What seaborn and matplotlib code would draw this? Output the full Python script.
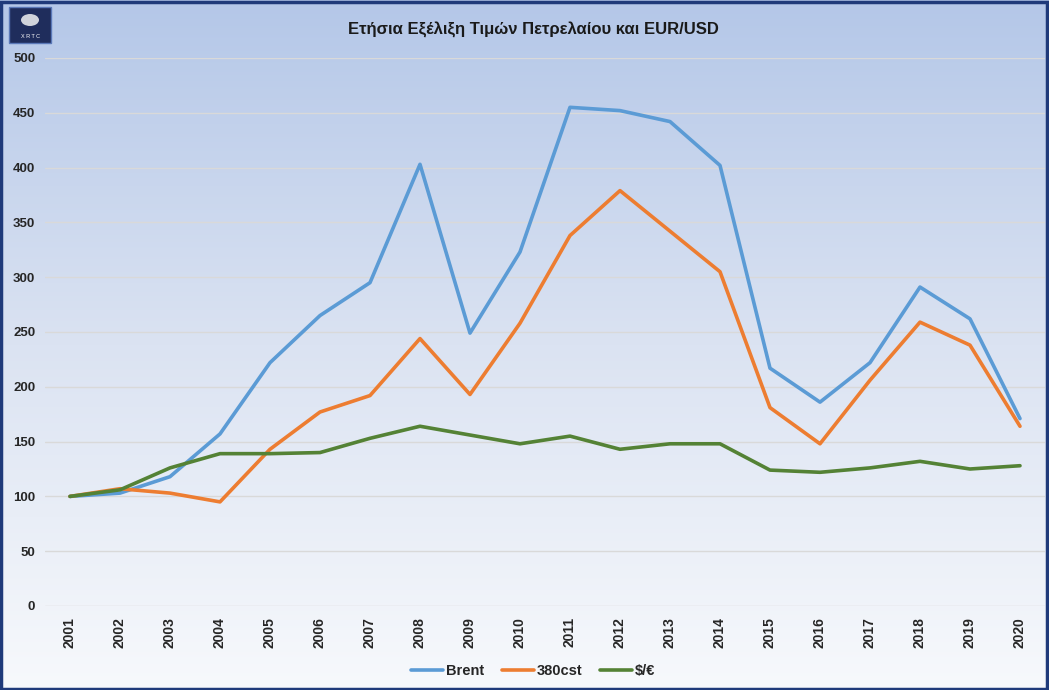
import matplotlib
matplotlib.use("Agg")
import matplotlib.pyplot as plt
import numpy as np
import pandas as pd
import seaborn as sns
from matplotlib.colors import LinearSegmentedColormap
from matplotlib.patches import Rectangle, Ellipse

# δεδομένα (δείκτης, 2001 = 100)
years = list(range(2001, 2021))
brent = [100, 103, 118, 157, 222, 265, 295, 403, 249, 323, 455, 452, 442, 402, 217, 186, 222, 291, 262, 171]
cst380 = [100, 107, 103, 95, 143, 177, 192, 244, 193, 258, 338, 379, 342, 305, 181, 148, 206, 259, 238, 164]
usd_eur = [100, 106, 126, 139, 139, 140, 153, 164, 156, 148, 155, 143, 148, 148, 124, 122, 126, 132, 125, 128]
series_names = ['Brent', '380cst', '$/€']
colors = ['#5b9bd5', '#ed7d31', '#548235']

df = pd.DataFrame({'year': years * 3,
                   'value': brent + cst380 + usd_eur,
                   'series': [s for s in series_names for _ in years]})

sns.set_theme(style="white")
plt.rcParams['font.family'] = ['Liberation Sans', 'DejaVu Sans']

fig = plt.figure(figsize=(10.49, 6.9), dpi=100)

# φόντο με διαβάθμιση
bg = fig.add_axes([0, 0, 1, 1], zorder=-10)
cmap = LinearSegmentedColormap.from_list('bg', ['#b4c7e8', '#dbe3f2', '#f7f9fc'])
grad = np.linspace(0, 1, 256).reshape(-1, 1)
bg.imshow(grad, aspect='auto', cmap=cmap, extent=[0, 1, 0, 1])
bg.set_axis_off()
bg.add_patch(Rectangle((0.001, 0.002), 0.997, 0.995, fill=False, edgecolor='#1f3a7a',
                       linewidth=2.5, transform=bg.transAxes))
# λογότυπο
bg.add_patch(Rectangle((9/1049, 1 - 43/690), 42/1049, 36/690, facecolor='#1f2d5c',
                       edgecolor='#5a78b8', transform=bg.transAxes))
bg.text(30/1049, 1 - 38/690, 'X R T C', color='white', fontsize=4, ha='center',
        transform=bg.transAxes)
bg.add_patch(Ellipse((30/1049, 1 - 20/690), 18/1049, 12/690, facecolor='#d0d4dc',
                     edgecolor='none', transform=bg.transAxes))

ax = fig.add_axes([45/1049, 84/690, 1000/1049, 548/690])
ax.set_facecolor('none')

sns.lineplot(data=df, x='year', y='value', hue='series', palette=colors,
             linewidth=2.6, ax=ax, legend=False)

ax.set_xlim(2000.5, 2020.5)
ax.set_ylim(0, 500)
ax.set_yticks(range(0, 501, 50))
ax.set_xticks(years)
ax.set_xticklabels([str(y) for y in years], rotation=90, fontsize=10, fontweight='bold',
                   color='#262626')
ax.set_yticklabels([str(v) for v in range(0, 501, 50)], fontsize=9.5, fontweight='bold',
                   color='#262626')
ax.yaxis.grid(True, color='#d9d9d9', linewidth=1)
ax.set_axisbelow(True)
for s in ax.spines.values():
    s.set_visible(False)
ax.tick_params(axis='x', length=0, pad=8)
ax.tick_params(axis='y', length=0, pad=7)
ax.set_xlabel('')
ax.set_ylabel('')

fig.text(533/1049, 1 - 30/690, 'Ετήσια Εξέλιξη Τιμών Πετρελαίου και EUR/USD',
         ha='center', va='center', fontsize=12, fontweight='bold', color='#1a1a1a')

handles = [plt.Line2D([], [], color=c, linewidth=2.6) for c in colors]
fig.legend(handles, series_names, loc='center', bbox_to_anchor=(533/1049, 19/690),
           ncol=3, frameon=False, handlelength=2.2, columnspacing=1.2,
           handletextpad=0.2, prop={'weight': 'bold', 'size': 10.5})

fig.savefig('out.png', dpi=100)
